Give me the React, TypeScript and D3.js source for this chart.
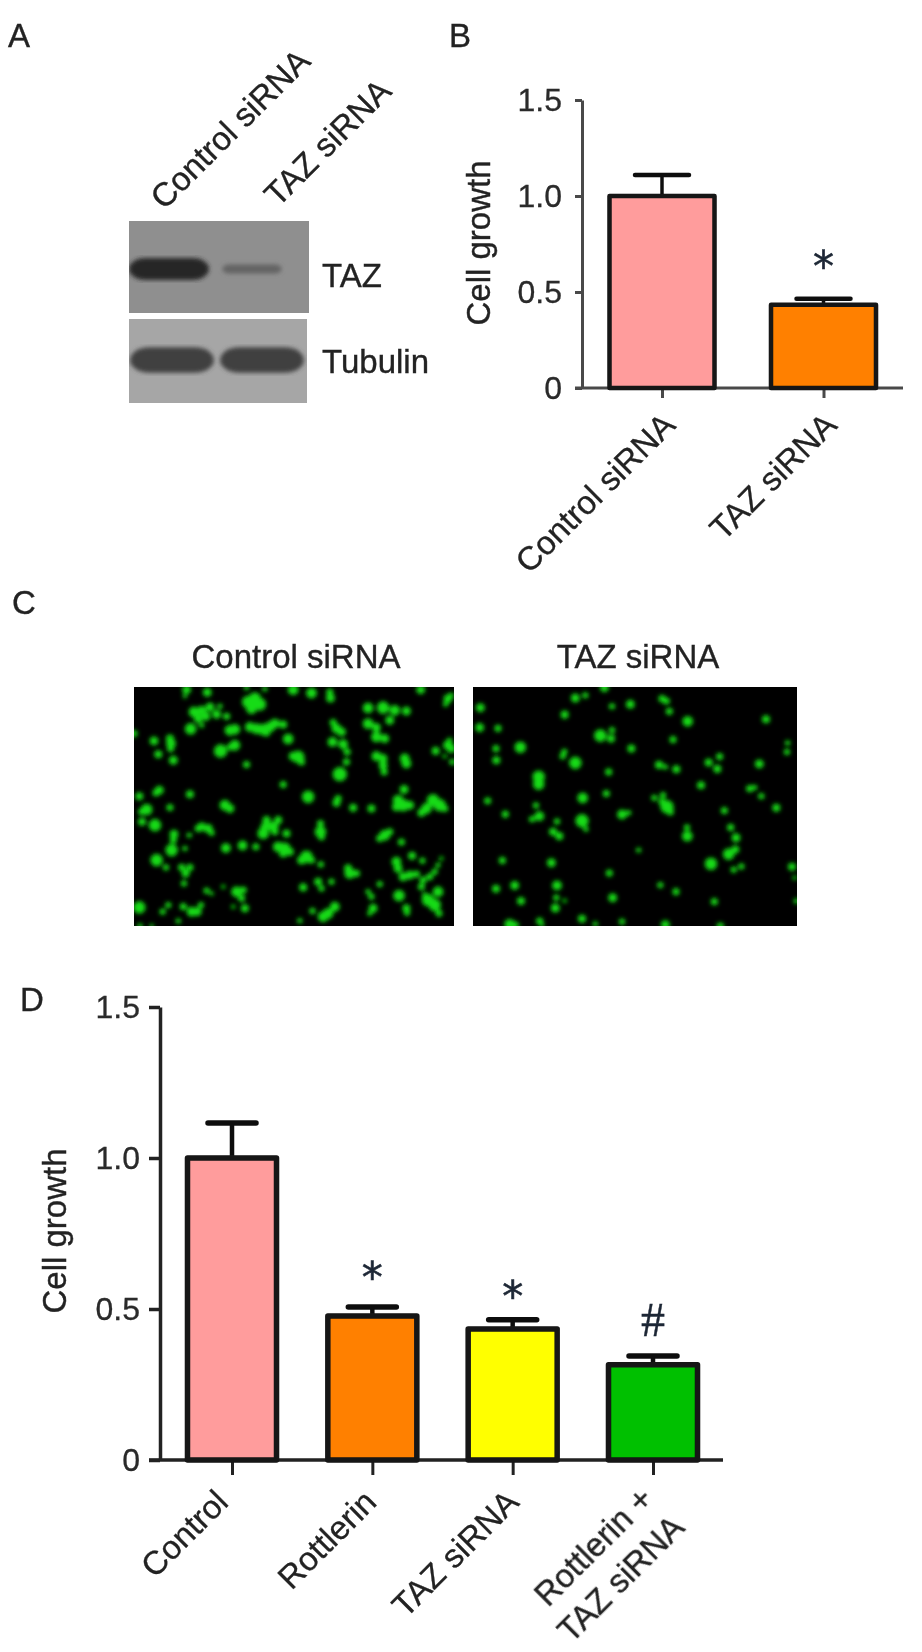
import { useEffect, useRef } from 'react';
import * as d3 from 'd3';

// Panel B values
const bCategories = ['Control siRNA', 'TAZ siRNA'];
const bValues = [1.0, 0.433];
const bErrorTops = [1.11, 0.465];
const bColors = ['#ff9c9c', '#ff8000'];
const bMarks = ['', '*'];
const bMarkGaps = [0, 38];
const bLabelShiftX = [0, 0];
const bLabelShiftY = [0, 0];

// Panel D values
const dCategories = ['Control', 'Rottlerin', 'TAZ siRNA', 'Rottlerin +|TAZ siRNA'];
const dValues = [1.0, 0.477, 0.434, 0.315];
const dErrorTops = [1.116, 0.507, 0.464, 0.344];
const dColors = ['#ff9c9c', '#ff8000', '#ffff00', '#00c000'];
const dMarks = ['', '*', '*', '#'];
const dMarkGaps = [0, 35, 29, 37];
const dLabelShiftX = [-8, 0, 2, -4];
const dLabelShiftY = [0, 0, 0, -3];

const yTicks = [0, 0.5, 1.0, 1.5];

// Western blot band strength per lane, 0..1
const blotLanes = ['Control siRNA', 'TAZ siRNA'];
const tazBands = [1.0, 0.42];
const tubulinBands = [0.8, 0.8];

// Micrograph cells: [x, y, radius] in zoomed image units
const controlCells = [
  [200,178,10],[262,186,10],[195,198,5],[380,172,6],[435,176,6],[520,178,12],[575,188,12],[630,185,8],[632,203,10],[903,178,10],
  [985,205,10],[978,222,6],[995,195,6],[385,215,14],[405,205,14],[420,222,14],[395,235,12],[222,245,12],[245,240,10],[270,230,10],
  [290,252,10],[235,265,10],[300,228,6],[320,258,8],[258,258,10],[212,296,13],[245,285,6],[330,300,12],[345,297,12],[390,290,11],
  [410,295,12],[430,298,13],[450,290,12],[465,280,11],[490,283,9],[440,308,8],[505,326,12],[42,310,8],[102,332,10],[150,325,9],
  [153,340,11],[152,355,8],[115,372,9],[160,390,10],[302,362,15],[345,345,12],[332,350,8],[380,403,8],[535,380,14],[520,378,10],
  [545,395,8],[640,277,8],[650,295,11],[665,305,10],[638,335,11],[670,342,11],[682,365,8],[680,395,8],[660,432,16],[490,463,8],
  [745,233,12],[790,232,14],[825,240,12],[860,242,10],[810,270,10],[745,280,12],[770,292,10],[770,320,12],[795,325,10],[770,378,11],
  [790,385,10],[790,405,10],[793,425,8],[855,385,11],[860,400,11],[948,362,9],[975,378,5],[985,345,11],[995,355,10],[998,395,7],
  [990,330,6],[118,480,10],[108,488,8],[58,498,9],[210,492,9],[315,525,12],[330,535,10],[565,500,14],[655,505,8],[650,518,9],
  [700,533,9],[755,535,9],[150,532,8],[80,538,13],[65,545,8],[66,575,9],[105,585,14],[853,478,10],[835,510,12],[850,525,14],
  [870,525,10],[830,530,10],[940,510,14],[920,535,12],[905,548,9],[960,525,14],[975,535,8],[245,590,10],[265,595,10],[275,608,7],
  [235,595,8],[440,570,9],[475,570,9],[460,590,12],[430,610,13],[435,590,10],[465,605,8],[500,610,9],[602,580,8],[602,605,13],
  [605,620,8],[162,612,10],[160,630,8],[155,660,14],[208,615,6],[195,655,6],[795,615,12],[810,605,8],[780,625,8],[845,636,8],
  [475,650,12],[495,655,13],[510,665,9],[490,670,9],[318,654,11],[368,646,11],[408,650,8],[560,680,14],[545,690,10],[575,690,8],
  [603,703,7],[110,690,14],[138,712,7],[185,712,8],[210,712,8],[197,730,9],[192,760,7],[685,715,9],[690,730,12],[710,730,8],
  [830,695,11],[835,715,10],[850,740,10],[870,735,10],[890,732,8],[877,677,9],[908,692,7],[910,750,8],[905,770,8],[930,740,8],
  [945,725,7],[955,705,6],[965,685,5],[780,762,7],[595,755,9],[605,775,7],[635,755,7],[550,772,9],[310,770,5],[260,782,7],
  [275,790,5],[350,785,12],[370,780,8],[365,805,8],[375,835,9],[340,830,5],[745,785,6],[755,800,7],[760,835,10],[750,850,6],
  [838,797,13],[860,835,9],[862,848,7],[955,785,12],[925,810,14],[945,825,14],[935,815,10],[958,850,8],[915,795,6],[58,832,14],
  [145,825,7],[128,845,7],[190,830,8],[215,845,11],[232,845,10],[243,825,7],[175,873,6],[578,843,7],[610,860,12],[625,850,12],
  [645,830,11],[540,872,6],[60,888,6],[95,888,5],
];
const tazCells = [
  [60,232,10],[345,203,10],[375,195,7],[432,172,10],[510,222,10],[455,228,7],[605,205,8],[618,212,8],[627,243,8],[682,273,12],
  [917,267,9],[313,253,9],[58,292,10],[113,294,8],[420,316,14],[455,300,7],[452,325,9],[638,328,8],[107,355,8],[180,351,13],
  [513,355,9],[108,390,9],[312,365,7],[307,378,7],[982,338,6],[980,365,7],[345,398,14],[596,404,9],[615,410,6],[648,417,9],
  [745,397,9],[778,379,8],[771,416,9],[897,401,10],[445,425,8],[235,440,14],[235,462,13],[722,465,9],[868,475,8],[883,472,6],
  [903,498,7],[438,490,8],[367,503,12],[82,512,8],[582,503,7],[608,495,7],[605,515,8],[620,530,15],[630,545,8],[227,526,7],
  [135,552,8],[237,558,11],[215,567,7],[948,533,9],[792,541,8],[485,553,11],[505,548,6],[365,572,15],[377,597,6],[290,574,7],
  [278,605,9],[297,618,9],[680,592,7],[681,618,12],[811,592,8],[827,623,10],[535,660,6],[825,658,9],[805,672,13],[126,691,8],
  [273,698,10],[752,701,14],[843,709,7],[820,719,7],[995,710,9],[1003,743,5],[447,729,8],[290,766,11],[163,766,10],[107,776,9],
  [600,765,7],[647,785,8],[288,803,7],[313,812,5],[457,803,10],[182,813,9],[762,815,8],[285,834,10],[1008,813,6],[365,866,9],
  [238,873,8],[485,875,7],[148,883,12],[165,885,8],[405,882,6],[615,884,10],[245,885,5],[780,888,8],
];

const FONT = '"Liberation Sans", Arial, sans-serif';
const INK = '#222';

const label = (g: any, text: string, x: number, y: number, size = 33, rotate = 0, anchor = 'start') =>
  g.append('text')
    .attr('transform', `translate(${x},${y}) rotate(${rotate})`)
    .attr('text-anchor', anchor)
    .attr('font-size', size)
    .attr('fill', INK)
    .attr('stroke', INK)
    .attr('stroke-width', 0.35)
    .text(text);

function drawBars(root: any, o: any) {
  const g = root.append('g').attr('filter', 'url(#soft)');
  const y = d3.scaleLinear().domain([0, 1.5]).range([o.zeroY, o.topY]);
  const x = d3.scalePoint().domain(o.categories).range(o.xRange);

  // axes
  const left = d3.axisLeft(y)
    .tickValues(yTicks)
    .tickFormat((d: any) => (d === 0 ? '0' : d3.format('.1f')(d)))
    .tickSize(o.yTick)
    .tickSizeOuter(0)
    .tickPadding(o.yPad);
  const gy = g.append('g').attr('transform', `translate(${o.axisX},0)`).call(left);
  gy.selectAll('.domain').attr('stroke', o.axisColor).attr('stroke-width', o.axisWidth);
  gy.selectAll('line').attr('stroke', o.axisColor).attr('stroke-width', o.axisWidth);
  gy.selectAll('text')
    .attr('font-size', 32).attr('font-family', FONT)
    .attr('fill', '#2a2a2a').attr('stroke', '#2a2a2a').attr('stroke-width', 0.3);

  g.append('line')
    .attr('x1', o.axisX - o.yTick).attr('x2', o.xEnd)
    .attr('y1', y(0)).attr('y2', y(0))
    .attr('stroke', o.axisColor).attr('stroke-width', o.axisWidth);

  const bottom = d3.axisBottom(x).tickSize(o.xTick).tickSizeOuter(0).tickFormat(() => '');
  const gx = g.append('g').attr('transform', `translate(0,${o.zeroY})`).call(bottom);
  gx.select('.domain').remove();
  gx.selectAll('line').attr('stroke', o.axisColor).attr('stroke-width', 3);

  // rotated category labels, second line for the combined treatment
  o.categories.forEach((c: string, i: number) => {
    const t = g.append('text')
      .attr('transform', `translate(${x(c)! + o.labelDx + o.shiftX[i]},${o.zeroY + o.labelDy + o.shiftY[i]}) rotate(-45)`)
      .attr('text-anchor', 'end')
      .attr('font-size', 33)
      .attr('fill', INK)
      .attr('stroke', INK)
      .attr('stroke-width', 0.3);
    c.split('|').forEach((line, n) => {
      t.append('tspan').attr('x', n ? 2 : 0).attr('dy', n ? 42 : 0).text(line);
    });
  });

  // error bars sit behind the bar outline
  const sw = o.barStroke;
  g.selectAll('line.err').data(o.categories).join('line')
    .attr('class', 'err')
    .attr('x1', (c: any) => x(c)).attr('x2', (c: any) => x(c))
    .attr('y1', (_: any, i: number) => y(o.values[i])).attr('y2', (_: any, i: number) => y(o.tops[i]))
    .attr('stroke', '#111').attr('stroke-width', sw - 1);
  g.selectAll('line.cap').data(o.categories).join('line')
    .attr('class', 'cap')
    .attr('x1', (c: any) => x(c)! - o.capHalf).attr('x2', (c: any) => x(c)! + o.capHalf)
    .attr('y1', (_: any, i: number) => y(o.tops[i])).attr('y2', (_: any, i: number) => y(o.tops[i]))
    .attr('stroke', '#111').attr('stroke-width', sw).attr('stroke-linecap', 'round');

  g.selectAll('rect.bar').data(o.categories).join('rect')
    .attr('class', 'bar')
    .attr('x', (c: any) => x(c)! - o.barWidth / 2)
    .attr('width', o.barWidth)
    .attr('y', (_: any, i: number) => y(o.values[i]))
    .attr('height', (_: any, i: number) => y(0) - y(o.values[i]))
    .attr('fill', (_: any, i: number) => o.colors[i])
    .attr('stroke', '#141414').attr('stroke-width', sw).attr('stroke-linejoin', 'round');

  // significance marks
  o.categories.forEach((c: string, i: number) => {
    const m = o.marks[i];
    if (!m) return;
    const hash = m === '#';
    g.append('text')
      .attr('x', x(c)!)
      .attr('y', y(o.tops[i]) - o.gaps[i] + (hash ? 17 : 20))
      .attr('text-anchor', 'middle')
      .attr('font-family', hash ? '"Liberation Serif", serif' : '"DejaVu Sans", sans-serif')
      .attr('font-size', hash ? 48 : 42)
      .attr('fill', '#1e2836')
      .attr('stroke', '#1e2836')
      .attr('stroke-width', hash ? 0.4 : 0.6)
      .text(m);
  });

  label(g, 'Cell growth', o.yLabelX, o.yLabelY, 33, -90, 'middle');
}

function drawBlot(root: any, id: string, box: number[], shade: string, range: number[], bands: number[], bandY: number, ryBase: number, rxBase: number) {
  const [x0, y0, x1, y1] = box;
  const lane = d3.scalePoint().domain(blotLanes).range(range);
  const dark = d3.scaleLinear<string>().domain([0, 1]).range([shade, '#262626']);
  const rx = (i: number) => rxBase * (0.55 + 0.45 * bands[i]);
  const ry = (i: number) => ryBase * bands[i];
  root.append('clipPath').attr('id', id).append('rect')
    .attr('x', x0).attr('y', y0).attr('width', x1 - x0).attr('height', y1 - y0);
  root.append('rect').attr('x', x0).attr('y', y0).attr('width', x1 - x0).attr('height', y1 - y0)
    .attr('fill', shade).attr('filter', 'url(#soft)');
  root.append('g').attr('clip-path', `url(#${id})`)
    .append('g').attr('filter', 'url(#blotBlur)')
    .selectAll('rect').data(blotLanes).join('rect')
    .attr('x', (l: any, i: number) => lane(l)! - rx(i))
    .attr('y', (_: any, i: number) => bandY - ry(i))
    .attr('width', (_: any, i: number) => 2 * rx(i))
    .attr('height', (_: any, i: number) => 2 * ry(i))
    .attr('rx', (_: any, i: number) => ry(i) * 1.5)
    .attr('ry', (_: any, i: number) => ry(i))
    .attr('fill', (_: any, i: number) => dark(bands[i]));
}

function drawCells(root: any, id: string, cells: number[][], box: number[], domain: number[]) {
  const [x0, y0, x1, y1] = box;
  const x = d3.scaleLinear().domain(domain).range([x0, x1]);
  const y = d3.scaleLinear().domain([170, 888]).range([y0, y1]);
  const k = (x1 - x0) / (domain[1] - domain[0]);
  root.append('clipPath').attr('id', id).append('rect')
    .attr('x', x0).attr('y', y0).attr('width', x1 - x0).attr('height', y1 - y0);
  root.append('rect').attr('x', x0).attr('y', y0).attr('width', x1 - x0).attr('height', y1 - y0)
    .attr('fill', '#030603').attr('filter', 'url(#soft)');
  root.append('g').attr('clip-path', `url(#${id})`)
    .append('g').attr('filter', 'url(#cellBlur)')
    .selectAll('circle').data(cells).join('circle')
    .attr('cx', (d: number[]) => x(d[0]))
    .attr('cy', (d: number[]) => y(d[1]))
    .attr('r', (d: number[]) => d[2] * k * 1.35)
    .attr('fill', '#12dc12');
}

export default function App() {
  const ref = useRef<SVGSVGElement>(null);

  useEffect(() => {
    if (!ref.current) return;
    const svg = d3.select(ref.current);
    svg.selectAll('*').remove();
    svg.attr('font-family', FONT);

    const defs = svg.append('defs');
    const blur = (id: string, s: number) =>
      defs.append('filter').attr('id', id)
        .attr('x', '-10%').attr('y', '-10%').attr('width', '120%').attr('height', '120%')
        .append('feGaussianBlur').attr('stdDeviation', s);
    blur('soft', 0.6);
    blur('blotBlur', 2.2);
    blur('cellBlur', 1.9);

    svg.append('rect').attr('width', 922).attr('height', 1652).attr('fill', '#fff');

    const letters = svg.append('g').attr('filter', 'url(#soft)');
    label(letters, 'A', 8, 47);
    label(letters, 'B', 449, 47);
    label(letters, 'C', 12, 614);
    label(letters, 'D', 20, 1011);

    // A: western blot
    drawBlot(svg, 'blotTaz', [129, 221, 309, 313], '#8f8f8f', [169, 252], tazBands, 269, 11, 40);
    drawBlot(svg, 'blotTub', [129, 319, 307, 403], '#a6a6a6', [172, 262], tubulinBands, 360, 16, 46);
    const a = svg.append('g').attr('filter', 'url(#soft)');
    label(a, bCategories[0], 312, 63, 33, -45, 'end');
    label(a, bCategories[1], 393, 93, 33, -45, 'end');
    label(a, 'TAZ', 322, 287);
    label(a, 'Tubulin', 322, 373);

    // B
    drawBars(svg, {
      categories: bCategories, values: bValues, tops: bErrorTops, colors: bColors, marks: bMarks, gaps: bMarkGaps,
      shiftX: bLabelShiftX, shiftY: bLabelShiftY,
      zeroY: 388, topY: 100, axisX: 582, xEnd: 903, xRange: [662, 823.5],
      barWidth: 105, barStroke: 4.5, capHalf: 27, axisColor: '#4a4a4a', axisWidth: 3,
      yTick: 7, yPad: 13, xTick: 10, labelDx: 15, labelDy: 39, yLabelX: 490, yLabelY: 243,
    });

    // C: micrographs
    const c = svg.append('g').attr('filter', 'url(#soft)');
    label(c, bCategories[0], 296, 668, 33, 0, 'middle');
    label(c, bCategories[1], 638, 668, 33, 0, 'middle');
    drawCells(svg, 'cellsL', controlCells, [134, 687, 454, 926], [42, 1003]);
    drawCells(svg, 'cellsR', tazCells, [473, 687, 797, 926], [38, 1010]);

    // D
    drawBars(svg, {
      categories: dCategories, values: dValues, tops: dErrorTops, colors: dColors, marks: dMarks, gaps: dMarkGaps,
      shiftX: dLabelShiftX, shiftY: dLabelShiftY,
      zeroY: 1460, topY: 1007, axisX: 160, xEnd: 723, xRange: [232, 653],
      barWidth: 89, barStroke: 5.5, capHalf: 24, axisColor: '#222', axisWidth: 3.5,
      yTick: 11, yPad: 9, xTick: 15, labelDx: 6, labelDy: 44, yLabelX: 66, yLabelY: 1231,
    });
  }, []);

  return (
    <svg
      ref={ref}
      width={922}
      height={1652}
      style={{ position: 'absolute', left: 0, top: 0, display: 'block' }}
    />
  );
}
